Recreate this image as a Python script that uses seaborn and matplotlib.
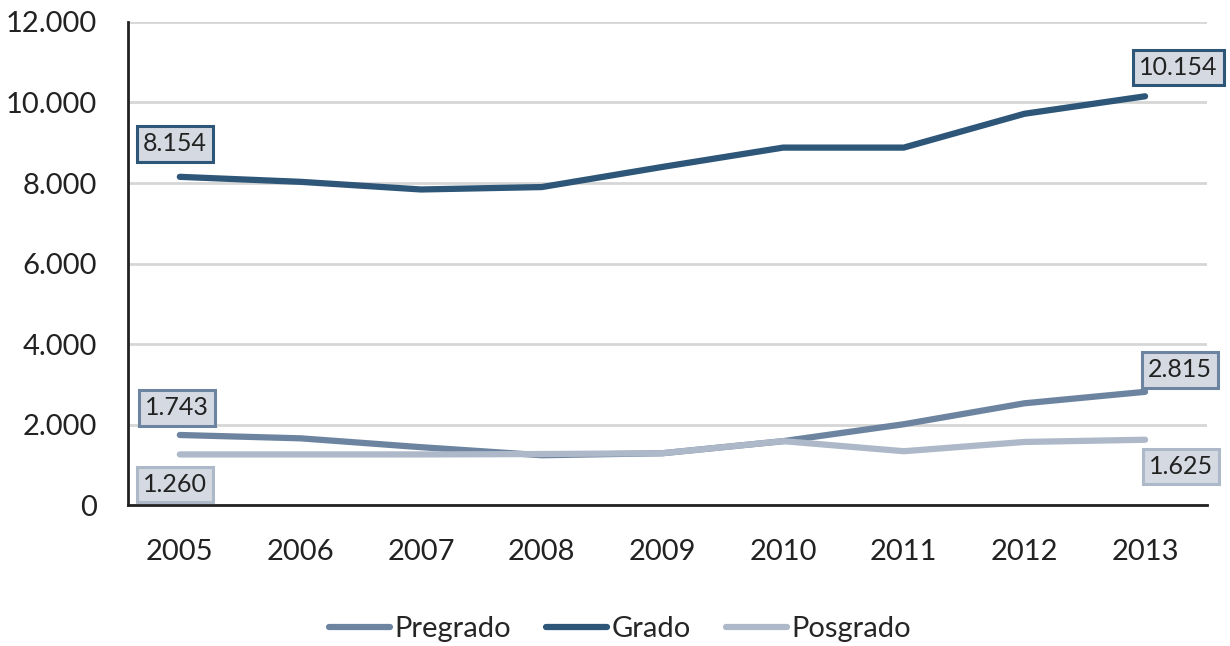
import pandas as pd
import numpy as np
import matplotlib.pyplot as plt
import seaborn as sns
from matplotlib.ticker import FuncFormatter

# Data
years = [2005, 2006, 2007, 2008, 2009, 2010, 2011, 2012, 2013]
pregrado = [1743, 1660, 1440, 1240, 1290, 1590, 2010, 2530, 2815]
grado = [8154, 8030, 7840, 7900, 8400, 8880, 8880, 9720, 10154]
posgrado = [1260, 1260, 1260, 1270, 1290, 1590, 1340, 1570, 1625]

series_names = ['Pregrado', 'Grado', 'Posgrado']
colors = {'Pregrado': '#6d84a0', 'Grado': '#2e5678', 'Posgrado': '#adb8c8'}

df = pd.DataFrame({
    'year': years * 3,
    'value': pregrado + grado + posgrado,
    'serie': ['Pregrado'] * 9 + ['Grado'] * 9 + ['Posgrado'] * 9,
})

sns.set_style('white')
plt.rcParams['font.family'] = ['Lato', 'DejaVu Sans']

fig = plt.figure(figsize=(12.3, 6.46), dpi=100)
ax = fig.add_axes([0.104, 0.218, 0.877, 0.748])

sns.lineplot(data=df, x='year', y='value', hue='serie', hue_order=series_names,
             palette=colors, linewidth=4.5, ax=ax, solid_capstyle='round')

ax.set_xlim(2004.57, 2013.51)
ax.set_ylim(0, 12000)
ax.set_xticks(years)
ax.set_yticks(range(0, 12001, 2000))
ax.yaxis.set_major_formatter(FuncFormatter(lambda v, p: f'{int(v):,}'.replace(',', '.')))
ax.tick_params(axis='both', labelsize=21, length=0, colors='#222222')
ax.tick_params(axis='x', pad=24)
ax.tick_params(axis='y', pad=22)
ax.set_xlabel('')
ax.set_ylabel('')
ax.grid(axis='y', color='#d6d6d6', linewidth=2)
ax.set_axisbelow(True)
for s in ['top', 'right']:
    ax.spines[s].set_visible(False)
for s in ['left', 'bottom']:
    ax.spines[s].set_color('#222222')
    ax.spines[s].set_linewidth(2)

# value labels at first and last points
labels = [
    ('Grado', 0, grado[0], (-5, 33)),
    ('Grado', 8, grado[8], (33, 29)),
    ('Pregrado', 0, pregrado[0], (-3, 27)),
    ('Pregrado', 8, pregrado[8], (35, 22)),
    ('Posgrado', 0, posgrado[0], (-5, -30)),
    ('Posgrado', 8, posgrado[8], (36, -27)),
]
for name, i, val, off in labels:
    ax.annotate(f'{val:,}'.replace(',', '.'), xy=(years[i], val), xytext=off,
                textcoords='offset pixels', ha='center', va='center',
                fontsize=18, color='#222222', annotation_clip=False,
                bbox=dict(boxstyle='square,pad=0.25', facecolor='#d4d9e2',
                          edgecolor=colors[name], linewidth=2.2))

leg = ax.legend(loc='upper center', bbox_to_anchor=(0.456, -0.175), ncol=3,
                frameon=False, fontsize=21, handlelength=2.1, handletextpad=0.15,
                columnspacing=1.2)
for line in leg.get_lines():
    line.set_linewidth(4.5)
    line.set_solid_capstyle('round')

fig.savefig('out.png', dpi=100)
